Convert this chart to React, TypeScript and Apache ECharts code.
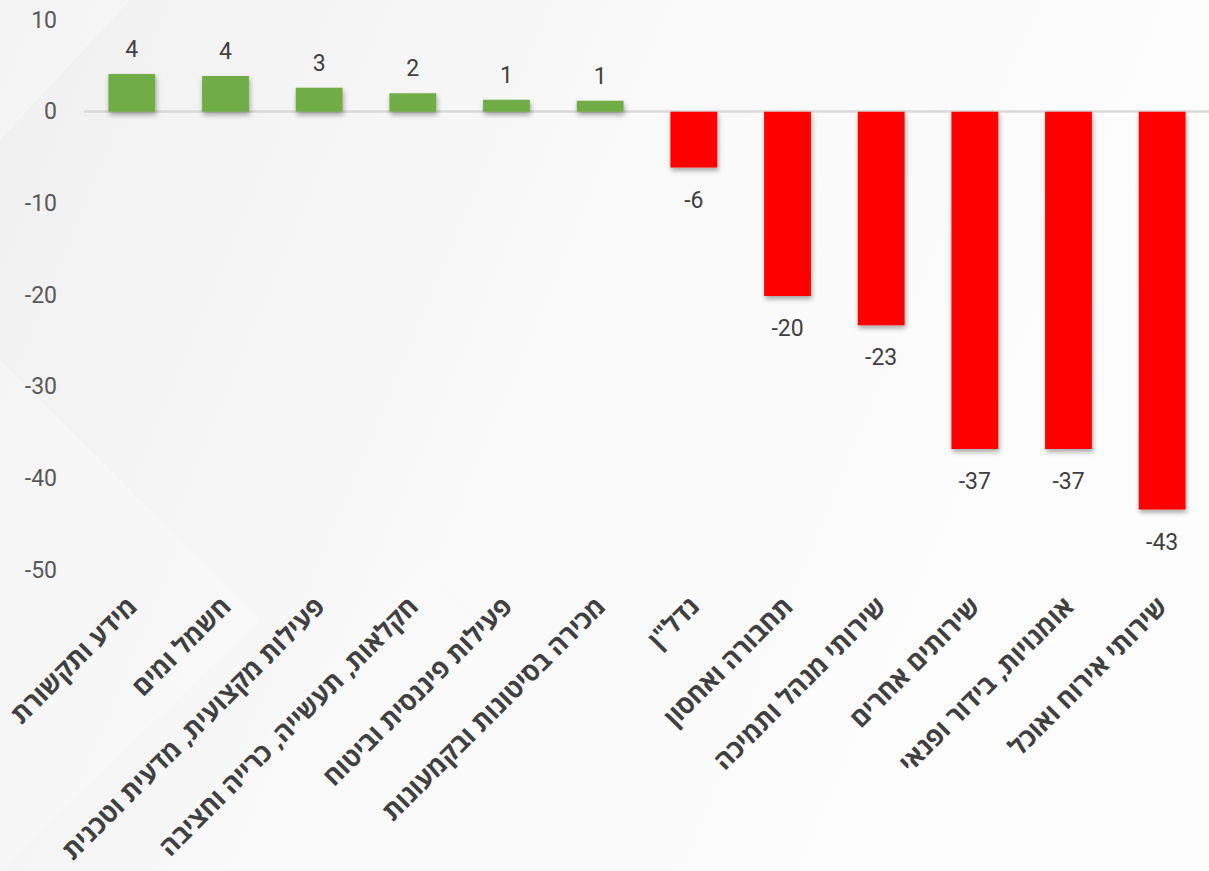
import React, { useEffect, useRef } from "react";
import * as echarts from "echarts";

const categories = [
  "מידע ותקשורת",
  "חשמל ומים",
  "פעילות מקצועית, מדעית וטכנית",
  "חקלאות, תעשייה, כרייה וחציבה",
  "פעילות פיננסית וביטוח",
  "מכירה בסיטונות ובקמעונות",
  'נדל"ן',
  "תחבורה ואחסון",
  "שירותי מנהל ותמיכה",
  "שירותים אחרים",
  "אומנויות, בידור ופנאי",
  "שירותי אירוח ואוכל",
];
const values = [4.1, 3.9, 2.6, 2.0, 1.3, 1.2, -6.1, -20.1, -23.3, -36.8, -36.8, -43.4];
const yMin = -50;
const yMax = 10;
const yStep = 10;

const GREEN = "#70AD47";
const RED = "#FF0000";

export default function App() {
  const ref = useRef<HTMLDivElement>(null);
  useEffect(() => {
    document.body.style.margin = "0";
    const chart = echarts.init(ref.current!, null, { renderer: "svg" });
    const numFont = "Roboto, 'Noto Sans', sans-serif";
    chart.setOption({
      animation: false,
      backgroundColor: {
        type: "linear",
        x: 0,
        y: 0,
        x2: 1,
        y2: 0.3,
        colorStops: [
          { offset: 0, color: "#f0f0f0" },
          { offset: 0.5, color: "#f9f9f9" },
          { offset: 1, color: "#fdfdfd" },
        ],
      },
      graphic: [
        {
          type: "polygon",
          silent: true,
          z: -10,
          shape: { points: [[0, 360], [260, 620], [0, 871]] },
          style: { fill: "rgba(255,255,255,0.25)" },
        },
        {
          type: "polygon",
          silent: true,
          z: -10,
          shape: { points: [[0, 0], [130, 0], [0, 140]] },
          style: { fill: "rgba(255,255,255,0.3)" },
        },
        {
          type: "polygon",
          silent: true,
          z: -10,
          shape: { points: [[150, 871], [420, 560], [700, 871]] },
          style: { fill: "rgba(255,255,255,0.2)" },
        },
      ],
      grid: { left: 85, top: 20, width: 1128, height: 550, containLabel: false },
      xAxis: {
        type: "category",
        data: categories,
        axisLine: { onZero: true, lineStyle: { color: "#d9d9d9", width: 2.5 } },
        axisTick: { show: false },
        axisLabel: {
          rotate: 45,
          interval: 0,
          margin: 31,
          fontSize: 26,
          fontWeight: "bold",
          color: "#404040",
          fontFamily: "'Open Sans', 'DejaVu Sans', sans-serif",
        },
      },
      yAxis: {
        type: "value",
        min: yMin,
        max: yMax,
        interval: yStep,
        splitLine: { show: false },
        axisLine: { show: false },
        axisTick: { show: false },
        axisLabel: {
          fontSize: 23,
          color: "#595959",
          margin: 28,
          fontFamily: numFont,
        },
      },
      series: [
        {
          type: "bar",
          barWidth: "50%",
          data: values.map((v) => ({
            value: v,
            itemStyle: {
              color: v >= 0 ? GREEN : RED,
              shadowBlur: 5,
              shadowColor: "rgba(0,0,0,0.35)",
              shadowOffsetX: 1,
              shadowOffsetY: 3,
            },
            label: {
              position: v >= 0 ? "top" : "bottom",
              distance: v >= 0 ? 13 : 21,
            },
          })),
          label: {
            show: true,
            fontSize: 23,
            color: "#404040",
            fontFamily: numFont,
            formatter: (p: any) => String(Math.round(p.value)),
          },
        },
      ],
    });
    return () => chart.dispose();
  }, []);
  return <div ref={ref} style={{ width: 1209, height: 871 }} />;
}
